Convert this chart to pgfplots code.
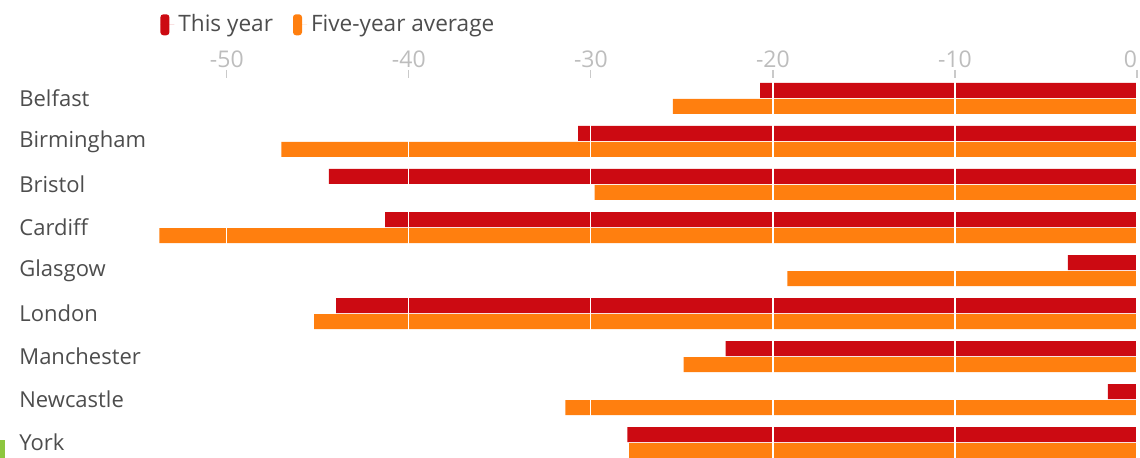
\documentclass[border=0pt]{standalone}
\usepackage{fontspec}
\setmainfont{Open Sans}
\usepackage{pgfplots}
\pgfplotsset{compat=1.18}
\definecolor{BarRed}{HTML}{CC0A12}
\definecolor{BarOrange}{HTML}{FF7F0F}
\definecolor{LabelGray}{HTML}{4D4D4D}
\definecolor{TickGray}{HTML}{BDBDBD}
\definecolor{MarkGreen}{HTML}{8DC63F}

\pgfplotstableread{
idx  thisyear  fiveyear
0    -20.7     -25.5
1    -30.7     -47.0
2    -44.4     -29.8
3    -41.3     -53.7
4    -3.8      -19.2
5    -44.0     -45.2
6    -22.6     -24.9
7    -1.6      -31.4
8    -28.0     -27.9
}\citydata

\begin{document}
\begin{tikzpicture}
    % one pixel of the reference = 0.5pt
    \useasboundingbox (0,0) rectangle (570pt,229pt);
    \fill[MarkGreen] (0pt,0pt) rectangle (2.5pt,9pt);

    \begin{axis}[
        at={(77pt,0pt)},
        anchor=south west,
        scale only axis,
        width=491.5pt,
        height=190pt,
        xbar,
        bar width=7.5pt,
        xmin=-54,
        xmax=0,
        ymin=-0.477,
        ymax=8.36,
        y dir=reverse,
        axis line style={draw=none},
        axis on top,
        xtick={-50,-40,-30,-20,-10,0},
        xticklabels={-50,-40,-30,-20,-10,\llap{0}},
        xtick pos=upper,
        xticklabel pos=upper,
        tick align=outside,
        major tick length=4pt,
        x tick style={TickGray!80, line width=0.6pt},
        xticklabel style={
            text=TickGray,
            font=\fontsize{11.5pt}{13pt}\selectfont,
            inner sep=1pt
        },
        xmajorgrids=true,
        grid style={white, line width=0.6pt},
        ytick={0,1,2,3,4,5,6,7,8},
        yticklabels={Belfast,Birmingham,Bristol,Cardiff,Glasgow,London,Manchester,Newcastle,York},
        y tick style={draw=none},
        yticklabel style={
            anchor=west,
            inner sep=0pt,
            xshift=-63.5pt,
            text=LabelGray,
            font=\fontsize{11pt}{13pt}\selectfont
        },
        legend columns=2,
        legend style={
            draw=none,
            fill=none,
            at={(0.0,1.14)},
            anchor=west,
            text=LabelGray,
            font=\fontsize{11.3pt}{13pt}\selectfont,
            /tikz/every even column/.append style={column sep=8pt}
        }
    ]

    % This year
    \addplot+[
        draw=none,
        fill=BarRed,
        bar shift=4pt,
        legend image code/.code={
            \path (0pt,0pt) -- (7pt,0pt);
            \fill[BarRed, rounded corners=1.5pt] (0pt,-5.25pt) rectangle (4.5pt,5.25pt);
        }
    ] table[x=thisyear, y=idx] {\citydata};
    \addlegendentry{This year}

    % Five-year average
    \addplot+[
        draw=none,
        fill=BarOrange,
        bar shift=-4pt,
        legend image code/.code={
            \path (0pt,0pt) -- (7pt,0pt);
            \fill[BarOrange, rounded corners=1.5pt] (0pt,-5.25pt) rectangle (4.5pt,5.25pt);
        }
    ] table[x=fiveyear, y=idx] {\citydata};
    \addlegendentry{Five-year average}

    \end{axis}
\end{tikzpicture}
\end{document}
